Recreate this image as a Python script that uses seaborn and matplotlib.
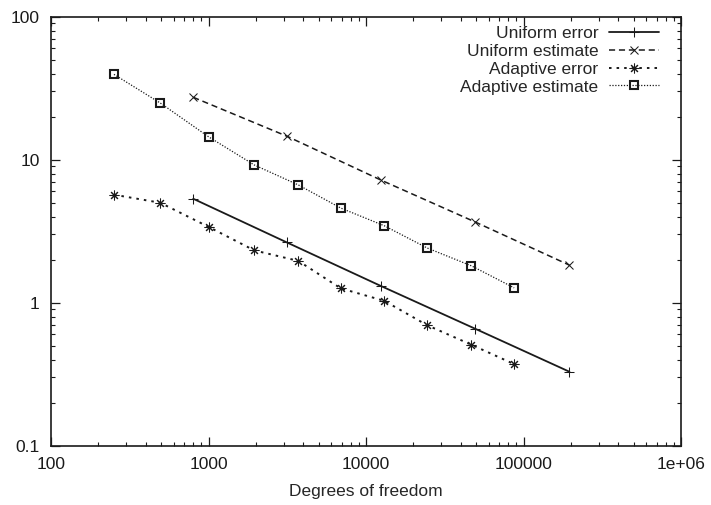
import numpy as np
import pandas as pd
import matplotlib
matplotlib.use("Agg")
import matplotlib.pyplot as plt
import seaborn as sns

# values
uniform_dofs = [800, 3140, 12400, 49200, 195500]
uniform_error = [5.33, 2.64, 1.31, 0.658, 0.329]
uniform_estimate = [27.3, 14.6, 7.21, 3.67, 1.83]

adaptive_dofs = [251, 494, 1006, 1954, 3715, 6906, 13060, 24490, 46650, 87100]
adaptive_error = [5.69, 5.00, 3.38, 2.32, 1.96, 1.26, 1.03, 0.695, 0.508, 0.372]
adaptive_estimate = [39.5, 24.9, 14.4, 9.18, 6.66, 4.59, 3.45, 2.41, 1.81, 1.27]

series_names = ["Uniform error", "Uniform estimate", "Adaptive error", "Adaptive estimate"]

sns.set_style("ticks")
plt.rcParams["font.family"] = ["Liberation Sans", "DejaVu Sans"]
plt.rcParams["font.size"] = 12.5

frames = []
for name, xs, ys in [
    (series_names[0], uniform_dofs, uniform_error),
    (series_names[1], uniform_dofs, uniform_estimate),
    (series_names[2], adaptive_dofs, adaptive_error),
    (series_names[3], adaptive_dofs, adaptive_estimate),
]:
    frames.append(pd.DataFrame({"dofs": xs, "value": ys, "series": name}))
df = pd.concat(frames, ignore_index=True)

ink = "#1a1a1a"
styles = {
    "Uniform error": dict(linestyle="-", marker="+", markersize=7, linewidth=1.3),
    "Uniform estimate": dict(linestyle=(0, (4, 2.5)), marker="x", markersize=6, linewidth=1.1),
    "Adaptive error": dict(linestyle=(0, (1.3, 2.6)), marker=(8, 2, 0), markersize=7, linewidth=1.4),
    "Adaptive estimate": dict(linestyle=(0, (1, 1.3)), marker="s", markersize=6,
                              markerfacecolor="none", markeredgewidth=1.5, linewidth=0.9),
}

fig = plt.figure(figsize=(7.11, 5.05), dpi=100)
ax = fig.add_axes([0.0717, 0.1174, 0.8863, 0.8496])
ax.set_xscale("log")
ax.set_yscale("log")

for name in series_names:
    sub = df[df.series == name]
    st = styles[name]
    sns.lineplot(ax=ax, data=sub, x="dofs", y="value", color=ink, label=name,
                 markeredgecolor=ink, **st)

ax.set_xlim(100, 1e6)
ax.set_ylim(0.1, 100)
ax.set_xticks([100, 1000, 10000, 100000, 1e6])
ax.set_xticklabels(["100", "1000", "10000", "100000", "1e+06"])
ax.set_yticks([0.1, 1, 10, 100])
ax.set_yticklabels(["0.1", "1", "10", "100"])
ax.set_xlabel("Degrees of freedom", fontsize=12.5, labelpad=9)
ax.set_ylabel("")

ax.tick_params(which="both", direction="in", top=True, right=True, colors=ink,
               labelcolor=ink, labelsize=12.5)
ax.tick_params(which="major", length=6.5, width=0.9, pad=8)
ax.tick_params(which="minor", length=3.2, width=0.8)
for s in ax.spines.values():
    s.set_color(ink)
    s.set_linewidth(1.2)
    s.set_visible(True)

ax.legend(loc="upper right", bbox_to_anchor=(0.965, 0.978), frameon=False,
          markerfirst=False, borderpad=0, borderaxespad=0, handlelength=2.9,
          handletextpad=0.6, labelspacing=0.15, fontsize=12.5)

plt.savefig("out.png", dpi=100)
